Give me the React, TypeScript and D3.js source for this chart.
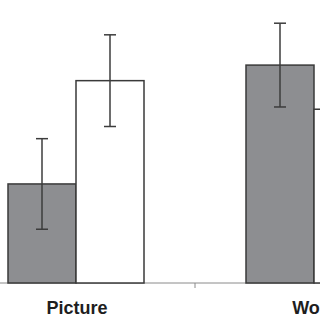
import React from "react";
import * as d3 from "d3";

const categories = ["Picture", "Word"];
const seriesNames = ["gray", "white"];
const grayValues = [35, 77];
const grayErrors = [16, 14.8];
const whiteValues = [71.5, 61.4];
const whiteErrors = [16.2, 15];

const W = 320;
const H = 320;

export default function App() {
  const x0 = d3.scaleBand<string>().domain(categories).range([-43, 433]).padding(0);
  const bw = x0.bandwidth();
  const x1 = d3
    .scaleBand<string>()
    .domain(seriesNames)
    .range([bw / 2 - 68, bw / 2 + 68])
    .padding(0);
  const y = d3.scaleLinear().domain([0, 100]).range([283, 0]);

  const series = [
    { name: "gray", values: grayValues, errors: grayErrors, fill: "#8d8e91" },
    { name: "white", values: whiteValues, errors: whiteErrors, fill: "#ffffff" },
  ];

  const ticks = [...categories.map((c) => x0(c) as number), 433];

  return (
    <svg
      width={W}
      height={H}
      style={{ position: "absolute", left: 0, top: 0, background: "#fff" }}
    >
      <line x1={0} x2={W} y1={y(0)} y2={y(0)} stroke="#8a8a8a" strokeWidth={1} />
      {ticks.map((t, i) => (
        <line key={i} x1={t} x2={t} y1={y(0)} y2={y(0) + 5} stroke="#8a8a8a" strokeWidth={1} />
      ))}
      {categories.map((c, ci) => (
        <g key={c} transform={`translate(${x0(c)},0)`}>
          {series.map((s) => {
            const bx = x1(s.name) as number;
            const v = s.values[ci];
            const e = s.errors[ci];
            const cx = bx + x1.bandwidth() / 2;
            return (
              <g key={s.name}>
                <rect
                  x={bx}
                  y={y(v)}
                  width={x1.bandwidth()}
                  height={y(0) - y(v)}
                  fill={s.fill}
                  stroke="#3a3a3a"
                  strokeWidth={1.5}
                />
                <line x1={cx} x2={cx} y1={y(v + e)} y2={y(v - e)} stroke="#3c3c3c" strokeWidth={1.5} />
                <line x1={cx - 6} x2={cx + 6} y1={y(v + e)} y2={y(v + e)} stroke="#3c3c3c" strokeWidth={1.5} />
                <line x1={cx - 6} x2={cx + 6} y1={y(v - e)} y2={y(v - e)} stroke="#3c3c3c" strokeWidth={1.5} />
              </g>
            );
          })}
          <text
            x={bw / 2 + 1}
            y={313.5}
            textAnchor="middle"
            fontFamily="Liberation Sans, Arial, sans-serif"
            fontWeight="bold"
            fontSize={18}
            fill="#1e1e1e"
          >
            {c}
          </text>
        </g>
      ))}
    </svg>
  );
}
